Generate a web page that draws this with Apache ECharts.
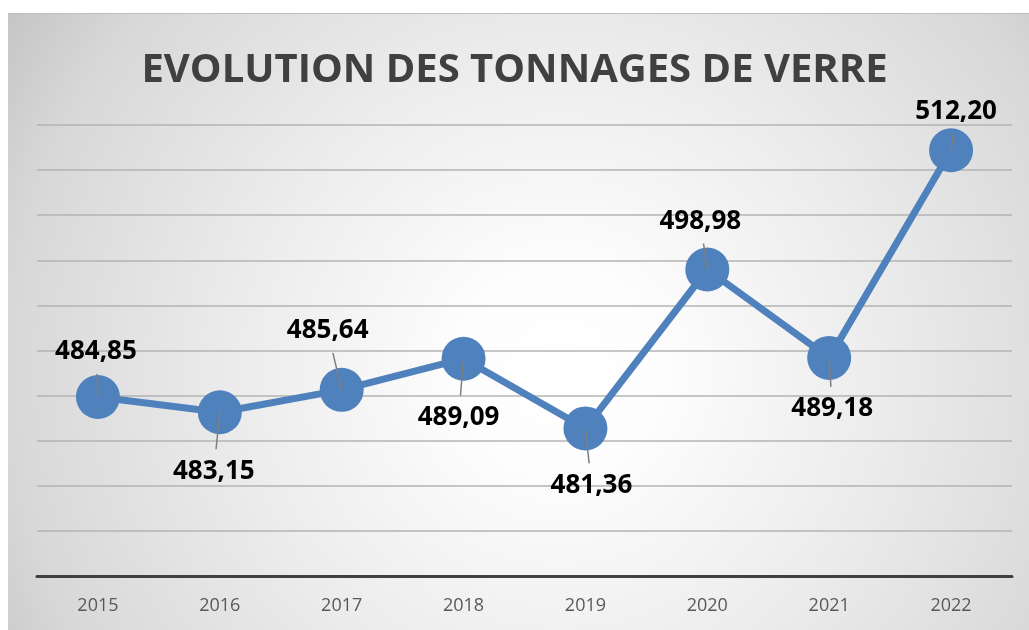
<!DOCTYPE html>
<html lang="fr">
<head>
    <meta charset="UTF-8">
    <title>Evolution des tonnages de verre</title>
    <script src="https://cdn.jsdelivr.net/npm/echarts@6/dist/echarts.min.js"></script>
    <style>
        html, body { margin: 0; padding: 0; background: #fff; }
        #chart { width: 1029px; height: 630px; }
    </style>
</head>
<body>
    <div id="chart"></div>
<script>
// données
var annees = ['2015', '2016', '2017', '2018', '2019', '2020', '2021', '2022'];
var tonnages = [484.85, 483.15, 485.64, 489.09, 481.36, 498.98, 489.18, 512.20];

// décalage des étiquettes par rapport aux points (px)
var decalages = [[-2, -45], [-6, 59], [-14, -59], [-5, 59], [6, 57], [-7, -48], [3, 51], [5, -39]];

var myChart = echarts.init(document.getElementById('chart'));

function fmt(v) {
    return v.toFixed(2).replace('.', ',');
}

var option = {
    textStyle: { fontFamily: 'Open Sans' },
    graphic: [{
        type: 'rect',
        z: -10,
        silent: true,
        shape: { x: 8, y: 13, width: 1021, height: 617 },
        style: {
            fill: new echarts.graphic.RadialGradient(0.54, 0.58, 1.1, [
                { offset: 0, color: '#ffffff' },
                { offset: 0.15, color: '#fdfdfd' },
                { offset: 0.49, color: '#ebebeb' },
                { offset: 0.81, color: '#d8d8d8' },
                { offset: 0.96, color: '#c6c6c6' },
                { offset: 1, color: '#c2c2c2' }
            ])
        }
    }, {
        type: 'line',
        z: -9,
        silent: true,
        shape: { x1: 8, y1: 13.5, x2: 1029, y2: 13.5 },
        style: { stroke: '#bdbdbd', lineWidth: 1 }
    }],
    title: {
        text: 'EVOLUTION DES TONNAGES DE VERRE',
        left: 'center',
        top: 46,
        textStyle: { fontSize: 40, fontWeight: 'bold', color: '#404040', fontFamily: 'Open Sans' }
    },
    grid: { left: 37, right: 17, top: 125, bottom: 54 },
    xAxis: {
        type: 'category',
        data: annees,
        axisLine: { lineStyle: { color: '#404040', width: 3 } },
        axisTick: { show: false },
        axisLabel: { color: '#595959', fontSize: 18, margin: 21 }
    },
    yAxis: {
        type: 'value',
        min: 465,
        max: 515,
        interval: 5,
        axisLabel: { show: false },
        axisLine: { show: false },
        axisTick: { show: false },
        splitLine: { lineStyle: { color: '#b3b3b3', width: 1.5 } }
    },
    series: [{
        type: 'line',
        data: tonnages.map(function (v, i) {
            return {
                value: v,
                label: { offset: decalages[i] }
            };
        }),
        symbol: 'circle',
        symbolSize: 44,
        itemStyle: { color: '#4f81bd' },
        lineStyle: { color: '#4f81bd', width: 7 },
        label: {
            show: true,
            position: 'inside',
            formatter: function (p) { return fmt(p.value); },
            color: '#000',
            fontSize: 26,
            fontWeight: 'bold',
            fontFamily: 'Open Sans'
        },
        z: 2
    }, {
        // traits de rappel des étiquettes
        type: 'custom',
        z: 3,
        silent: true,
        data: tonnages.map(function (v, i) { return [i, v]; }),
        renderItem: function (params, api) {
            var p = api.coord([api.value(0), api.value(1)]);
            var d = decalages[params.dataIndex];
            var k = (Math.abs(d[1]) - 22) / Math.abs(d[1]);
            return {
                type: 'line',
                shape: { x1: p[0], y1: p[1], x2: p[0] + d[0] * k, y2: p[1] + d[1] * k },
                style: { stroke: '#7f7f7f', lineWidth: 1.5 }
            };
        }
    }]
};

myChart.setOption(option);
</script>
</body>
</html>
